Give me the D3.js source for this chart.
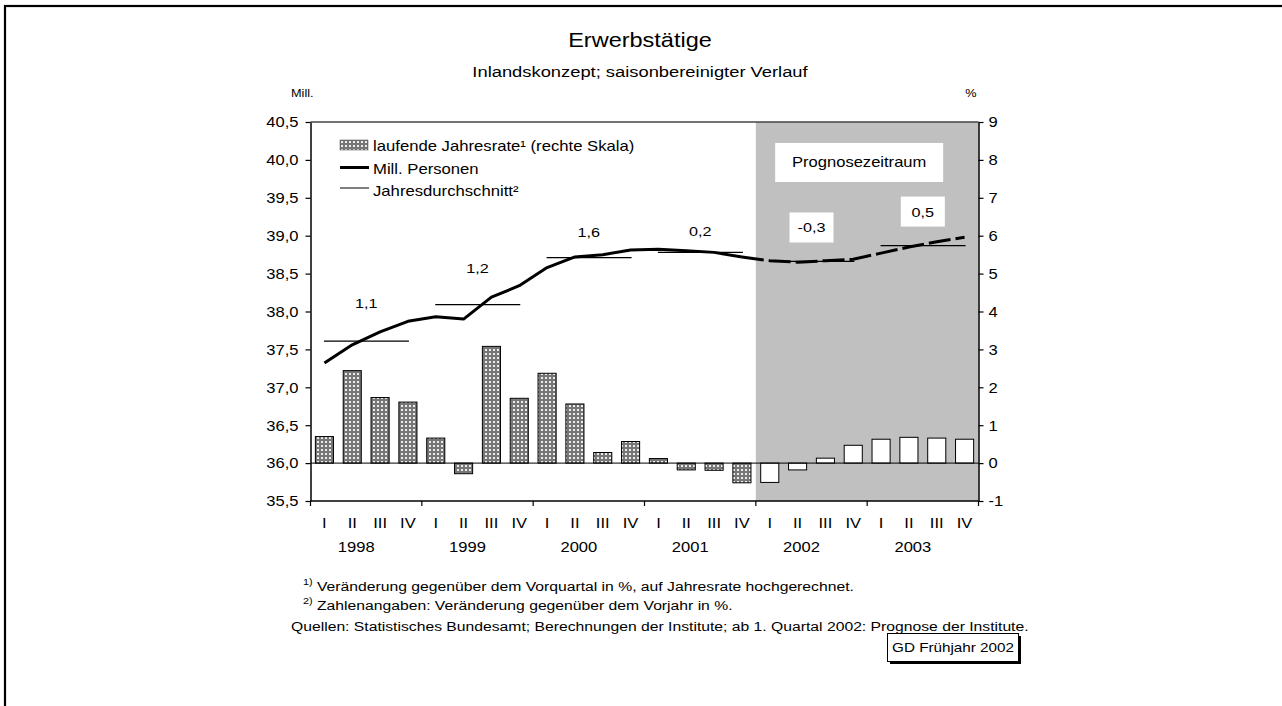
<!DOCTYPE html>
<html>
<head>
<meta charset="utf-8">
<script src="https://cdn.jsdelivr.net/npm/d3@7"></script>
<style>
  body { margin: 0; background: #fff; }
  svg { display: block; font-family: "Liberation Sans", Arial, sans-serif; }
</style>
</head>
<body>
<svg id="chart" width="1282" height="706"></svg>
<script>
// data
var years = ["1998", "1999", "2000", "2001", "2002", "2003"];
var quarters = ["I", "II", "III", "IV"];
// laufende Jahresrate, % (right scale)
var rate = [0.70, 2.44, 1.73, 1.61, 0.66, -0.28, 3.08, 1.71, 2.37, 1.56, 0.28, 0.57,
            0.12, -0.18, -0.19, -0.52, -0.51, -0.18, 0.13, 0.47, 0.63, 0.68, 0.66, 0.63];
// Mill. Personen (left scale)
var persons = [37.32, 37.56, 37.73, 37.87, 37.93, 37.90, 38.19, 38.34, 38.58, 38.72, 38.75, 38.81,
               38.82, 38.80, 38.78, 38.72, 38.67, 38.65, 38.67, 38.69, 38.77, 38.85, 38.92, 38.98];
// Jahresdurchschnitt and its change vs. previous year
var yearAvg = [37.61, 38.09, 38.71, 38.78, 38.66, 38.87];
var yearChange = ["1,1", "1,2", "1,6", "0,2", "-0,3", "0,5"];
var leftTicks = [35.5, 36.0, 36.5, 37.0, 37.5, 38.0, 38.5, 39.0, 39.5, 40.0, 40.5];
var rightTicks = [-1, 0, 1, 2, 3, 4, 5, 6, 7, 8, 9];
var forecastFrom = 16; // ab 1. Quartal 2002

var SX = 1.2; // text in the original is drawn wide
var svg = d3.select("#chart");

var pLeft = 310.5, pRight = 978.5, pTop = 122, pBottom = 501;

var idx = d3.range(years.length * quarters.length);
var x = d3.scaleBand().domain(idx).range([pLeft, pRight]).paddingInner(0.35).paddingOuter(0.175);
var step = x.step();
var cx = function (i) { return x(i) + x.bandwidth() / 2; };
var yL = d3.scaleLinear().domain([35.5, 40.5]).range([pBottom, pTop]);
var yR = d3.scaleLinear().domain([-1, 9]).range([pBottom, pTop]);
var comma = function (f) { return function (d) { return d3.format(f)(d).replace(".", ",").replace("\u2212", "-"); }; };

function txt(sel, tx, ty, s, size, anchor) {
  return sel.append("text")
    .attr("transform", "translate(" + tx + "," + ty + ") scale(" + SX + ",1)")
    .attr("font-size", size)
    .attr("text-anchor", anchor || "start")
    .attr("fill", "#000")
    .text(s);
}

// pattern for the bars
var defs = svg.append("defs");
var pat = defs.append("pattern").attr("id", "dots")
  .attr("width", 4).attr("height", 4).attr("patternUnits", "userSpaceOnUse");
pat.append("rect").attr("width", 4).attr("height", 4).attr("fill", "#777");
pat.append("rect").attr("x", 1).attr("y", 1).attr("width", 2).attr("height", 2).attr("fill", "#ececec");

// outer frame
svg.append("rect").attr("x", 5).attr("y", 6).attr("width", 1300).attr("height", 720)
  .attr("fill", "none").attr("stroke", "#000").attr("stroke-width", 2.2);

// titles
txt(svg, 640, 47, "Erwerbstätige", 19.6, "middle");
txt(svg, 640, 77, "Inlandskonzept; saisonbereinigter Verlauf", 15.3, "middle");
txt(svg, 291, 97, "Mill.", 10.6, "start");
txt(svg, 971, 97, "%", 10.6, "middle");

// forecast shading
var shadeX = x(forecastFrom) - step * 0.175;
svg.append("rect")
  .attr("x", shadeX)
  .attr("y", pTop)
  .attr("width", pRight - shadeX)
  .attr("height", pBottom - pTop)
  .attr("fill", "#c0c0c0");

// plot top line
svg.append("line").attr("x1", pLeft).attr("x2", pRight).attr("y1", pTop).attr("y2", pTop)
  .attr("stroke", "#444").attr("stroke-width", 1.5);

// bars
svg.append("g").selectAll("rect")
  .data(rate)
  .enter()
  .append("rect")
  .attr("x", function (d, i) { return x(i); })
  .attr("y", function (d) { return yR(Math.max(0, d)); })
  .attr("width", x.bandwidth())
  .attr("height", function (d) { return Math.abs(yR(d) - yR(0)); })
  .attr("fill", function (d, i) { return i >= forecastFrom ? "#fff" : "url(#dots)"; })
  .attr("stroke", "#000")
  .attr("stroke-width", 1);

// zero line
svg.append("line").attr("x1", pLeft).attr("x2", pRight).attr("y1", yR(0)).attr("y2", yR(0))
  .attr("stroke", "#000").attr("stroke-width", 1);

// annual averages
svg.append("g").selectAll("line")
  .data(yearAvg)
  .enter()
  .append("line")
  .attr("x1", function (d, i) { return cx(i * 4) - 0.5; })
  .attr("x2", function (d, i) { return cx(i * 4 + 3) + 1; })
  .attr("y1", function (d) { return yL(d); })
  .attr("y2", function (d) { return yL(d); })
  .attr("stroke", "#000")
  .attr("stroke-width", 1.3);

// persons line: solid history, dashed forecast
var line = d3.line().x(function (d) { return cx(d.i); }).y(function (d) { return yL(d.v); });
var pts = persons.map(function (v, i) { return { i: i, v: v }; });
svg.append("path").datum(pts.slice(0, forecastFrom))
  .attr("d", line).attr("fill", "none").attr("stroke", "#000").attr("stroke-width", 3)
  .attr("stroke-linejoin", "round");
svg.append("path").datum(pts.slice(forecastFrom - 1))
  .attr("d", line).attr("fill", "none").attr("stroke", "#000").attr("stroke-width", 3)
  .attr("stroke-dasharray", "22,5");

// yearly change labels
yearChange.forEach(function (s, k) {
  var xc = cx(k * 4) + 1.5 * step;
  var yMax = d3.max(persons.slice(k * 4, k * 4 + 4));
  var boxed = k * 4 >= forecastFrom;
  var yc = boxed ? yL(yearAvg[k]) - 34 : Math.min(yL(yearAvg[k]), yL(yMax)) - 18;
  if (boxed) {
    svg.append("rect").attr("x", xc - 22).attr("y", yc - 15).attr("width", 44).attr("height", 30)
      .attr("fill", "#fff");
  }
  txt(svg, xc, yc + 5, s, 13.5, "middle");
});

// Prognosezeitraum box
var px = (shadeX + pRight) / 2 - 8;
svg.append("rect").attr("x", px - 84).attr("y", 143).attr("width", 168).attr("height", 39).attr("fill", "#fff");
txt(svg, px, 167, "Prognosezeitraum", 13.8, "middle");

// legend
var lg = svg.append("g");
lg.append("rect").attr("x", 340).attr("y", 140).attr("width", 28).attr("height", 10)
  .attr("fill", "url(#dots)").attr("stroke", "#444").attr("stroke-width", 0.5);
lg.append("line").attr("x1", 340).attr("x2", 369).attr("y1", 167.5).attr("y2", 167.5)
  .attr("stroke", "#000").attr("stroke-width", 3);
lg.append("line").attr("x1", 340).attr("x2", 369).attr("y1", 188).attr("y2", 188)
  .attr("stroke", "#000").attr("stroke-width", 1);
txt(lg, 373, 151, "laufende Jahresrate¹ (rechte Skala)", 13.9);
txt(lg, 373, 174, "Mill. Personen", 13.9);
txt(lg, 373, 196, "Jahresdurchschnitt²", 13.9);

// left axis
var gl = svg.append("g").attr("transform", "translate(" + pLeft + ",0)")
  .call(d3.axisLeft(yL).tickValues(leftTicks).tickSize(5).tickSizeOuter(0).tickFormat(comma(".1f")));
gl.select(".domain").attr("stroke-width", 1.5);
gl.selectAll(".tick line").attr("stroke-width", 1.2);
gl.selectAll(".tick text").attr("x", null).attr("dy", "0.35em")
  .attr("transform", "translate(-12,0) scale(" + SX + ",1)").attr("font-size", 13.8);
gl.attr("font-family", null);

// right axis
var gr = svg.append("g").attr("transform", "translate(" + pRight + ",0)")
  .call(d3.axisRight(yR).tickValues(rightTicks).tickSize(5).tickSizeOuter(0).tickFormat(comma("d")));
gr.select(".domain").attr("stroke-width", 1.5);
gr.selectAll(".tick line").attr("stroke-width", 1.2);
gr.selectAll(".tick text").attr("x", null).attr("dy", "0.35em")
  .attr("transform", "translate(10,0) scale(" + SX + ",1)").attr("font-size", 13.8);
gr.attr("font-family", null);

// bottom axis: quarters and years
var gb = svg.append("g");
gb.append("line").attr("x1", pLeft).attr("x2", pRight).attr("y1", pBottom).attr("y2", pBottom)
  .attr("stroke", "#000").attr("stroke-width", 1.5);
d3.range(years.length + 1).forEach(function (k) {
  var xb = pLeft + k * 4 * step;
  gb.append("line").attr("x1", xb).attr("x2", xb).attr("y1", pBottom).attr("y2", pBottom + 5)
    .attr("stroke", "#000").attr("stroke-width", 1.2);
});
idx.forEach(function (i) {
  txt(gb, cx(i), 528, quarters[i % 4], 13.8, "middle");
});
years.forEach(function (s, k) {
  txt(gb, cx(k * 4) + 1.5 * step - 10, 552, s, 13.8, "middle");
});

// footnotes
txt(svg, 303, 585, "1)", 9);
txt(svg, 317, 591, "Veränderung gegenüber dem Vorquartal in %, auf Jahresrate hochgerechnet.", 13.1);
txt(svg, 303, 604, "2)", 9);
txt(svg, 317, 610, "Zahlenangaben: Veränderung gegenüber dem Vorjahr in %.", 13.1);
txt(svg, 291, 631, "Quellen: Statistisches Bundesamt; Berechnungen der Institute; ab 1. Quartal 2002: Prognose der Institute.", 13.1);

// GD box with shadow
svg.append("rect").attr("x", 890).attr("y", 636).attr("width", 131).attr("height", 28).attr("fill", "#000");
svg.append("rect").attr("x", 887.5).attr("y", 633.5).attr("width", 131).attr("height", 28)
  .attr("fill", "#fff").attr("stroke", "#000").attr("stroke-width", 1);
txt(svg, 953, 652, "GD Frühjahr 2002", 12.7, "middle");
</script>
</body>
</html>
